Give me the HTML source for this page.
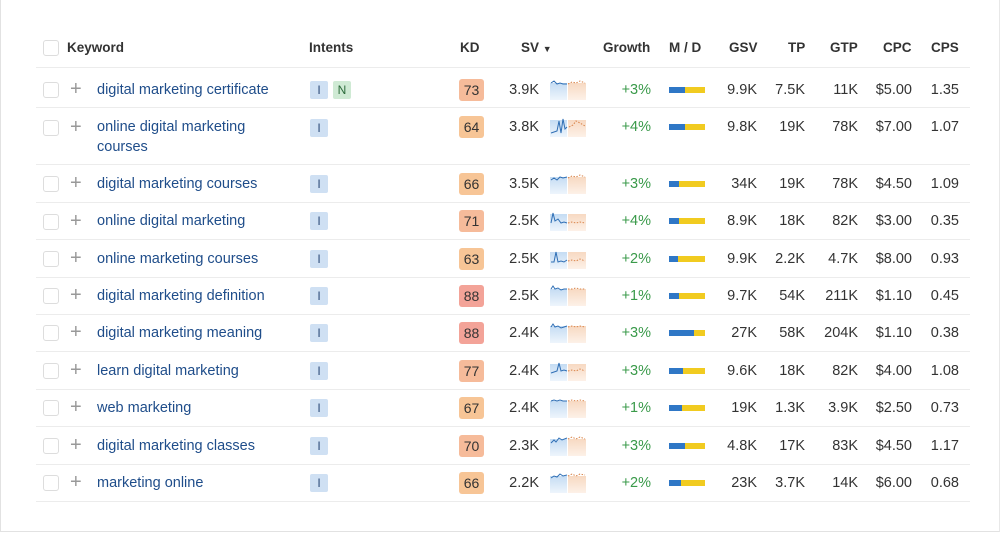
<!DOCTYPE html>
<html><head><meta charset="utf-8"><style>
*{margin:0;padding:0;box-sizing:border-box}
body{width:1000px;height:533px;background:#fff;font-family:"Liberation Sans",sans-serif;position:relative;overflow:hidden;color:#333}
.frame{position:absolute;left:0;top:0;width:1000px;height:532px;border:1px solid #e2e2e2;border-top:none;border-right:1px solid #e8e8e8}
.h{position:absolute;top:40px;font-size:13.5px;font-weight:bold;color:#333}
.r{position:absolute;left:36px;width:934px;border-bottom:1px solid #ececec}
.r>*{position:absolute;margin-top:1px}
.cb{left:7px;width:16px;height:16px;border:1px solid #ddd;border-radius:3px;background:#fff}
.pl{left:34px;font-size:20px;color:#999;font-weight:300;line-height:16px}
.kw{left:61px;font-size:14.5px;color:#1f4d8a;line-height:20px;width:200px}
.in{width:18px;height:18px;background:#cfe0f3;color:#2b4a78;font-size:12px;text-align:center;line-height:18px;border-radius:2px}
.n{background:#cfead4;color:#2b6a3a}
.kd{left:423px;width:25px;height:22px;border-radius:3px;font-size:14px;text-align:center;line-height:22px;color:#333}
.num{font-size:14.5px;line-height:20px;text-align:right;color:#333}
.sv{left:453px;width:50px}
.gr{left:565px;width:50px;color:#3a9a4a}
.gsv{left:670px;width:51px}.tp{left:730px;width:39px}.gtp{left:780px;width:42px}.cpc{left:825px;width:51px}.cps{left:880px;width:43px}
.md{left:633px;width:36px;height:6px;background:#f1cb20}
.md i{display:block;height:6px;background:#2f77c6}
svg.sp{left:514px;width:36px;height:22px}
</style></head><body>
<div class="frame"></div>
<div style="position:absolute;left:43px;top:40px;width:16px;height:16px;border:1px solid #ddd;border-radius:3px"></div>
<div class="h" style="left:67px">Keyword</div>
<div class="h" style="left:309px">Intents</div>
<div class="h" style="left:460px">KD</div>
<div class="h" style="left:521px">SV <span style="font-size:9px">▼</span></div>
<div class="h" style="left:603px">Growth</div>
<div class="h" style="left:669px">M / D</div>
<div class="h" style="left:729px">GSV</div>
<div class="h" style="left:788px">TP</div>
<div class="h" style="left:830px">GTP</div>
<div class="h" style="left:883px">CPC</div>
<div class="h" style="left:931px">CPS</div>
<div style="position:absolute;left:36px;top:67px;width:934px;border-top:1px solid #ececec"></div>

<svg width="0" height="0" style="position:absolute"><defs>
<linearGradient id="gb" x1="0" y1="0" x2="0" y2="1"><stop offset="0" stop-color="#c5dcf3"/><stop offset="1" stop-color="#eef5fc"/></linearGradient>
<linearGradient id="go" x1="0" y1="0" x2="0" y2="1"><stop offset="0" stop-color="#f7d9c2"/><stop offset="1" stop-color="#fdf1e8"/></linearGradient>
<g id="bg"><rect x="0" y="5" width="17" height="17" fill="url(#gb)"/><rect x="18" y="5" width="18" height="17" fill="url(#go)"/></g>
</defs></svg>

<div class="r" style="top:68px;height:40px">
<div class="cb" style="top:13px"></div><div class="pl" style="top:12px">+</div>
<div class="kw" style="top:11px">digital marketing certificate</div>
<div class="in" style="left:274px;top:12px">I</div><div class="in n" style="left:297px;top:12px">N</div>
<div class="kd" style="top:10px;background:#f6bb9a">73</div>
<div class="num sv" style="top:11px">3.9K</div>
<svg class="sp" style="top:9px"><use href="#bg"/><polyline points="1,5 4,3 7,6 10,5 13,6 17,6" fill="none" stroke="#2f6fb5" stroke-width="1"/><polyline points="18,6 22,4 26,5 30,3 35,5" fill="none" stroke="#d9844a" stroke-dasharray="1.5,1.5"/></svg>
<div class="num gr" style="top:11px">+3%</div>
<div class="md" style="top:18px"><i style="width:16px"></i></div>
<div class="num gsv" style="top:11px">9.9K</div><div class="num tp" style="top:11px">7.5K</div><div class="num gtp" style="top:11px">11K</div><div class="num cpc" style="top:11px">$5.00</div><div class="num cps" style="top:11px">1.35</div>
</div>

<div class="r" style="top:108px;height:57px">
<div class="cb" style="top:11px"></div><div class="pl" style="top:10px">+</div>
<div class="kw" style="top:8px">online digital marketing<br>courses</div>
<div class="in" style="left:274px;top:10px">I</div>
<div class="kd" style="top:7px;background:#f7c596">64</div>
<div class="num sv" style="top:8px">3.8K</div>
<svg class="sp" style="top:6px"><use href="#bg"/><polyline points="1,18 4,17 7,16 9,6 11,18 13,4 15,14 17,12" fill="none" stroke="#2f6fb5"/><polyline points="19,12 23,10 26,6 30,8 35,11" fill="none" stroke="#d9844a" stroke-dasharray="1.5,1.5"/></svg>
<div class="num gr" style="top:8px">+4%</div>
<div class="md" style="top:15px"><i style="width:16px"></i></div>
<div class="num gsv" style="top:8px">9.8K</div><div class="num tp" style="top:8px">19K</div><div class="num gtp" style="top:8px">78K</div><div class="num cpc" style="top:8px">$7.00</div><div class="num cps" style="top:8px">1.07</div>
</div>

<div class="r" style="top:165px;height:38px">
<div class="cb" style="top:10px"></div><div class="pl" style="top:9px">+</div>
<div class="kw" style="top:8px">digital marketing courses</div>
<div class="in" style="left:274px;top:9px">I</div>
<div class="kd" style="top:7px;background:#f7c596">66</div>
<div class="num sv" style="top:8px">3.5K</div>
<svg class="sp" style="top:6px"><use href="#bg"/><polyline points="1,8 4,6 7,8 10,5 13,6 17,5" fill="none" stroke="#2f6fb5"/><polyline points="18,6 22,4 26,5 30,3 35,5" fill="none" stroke="#d9844a" stroke-dasharray="1.5,1.5"/></svg>
<div class="num gr" style="top:8px">+3%</div>
<div class="md" style="top:15px"><i style="width:10px"></i></div>
<div class="num gsv" style="top:8px">34K</div><div class="num tp" style="top:8px">19K</div><div class="num gtp" style="top:8px">78K</div><div class="num cpc" style="top:8px">$4.50</div><div class="num cps" style="top:8px">1.09</div>
</div>

<div class="r" style="top:203px;height:37px">
<div class="cb" style="top:10px"></div><div class="pl" style="top:9px">+</div>
<div class="kw" style="top:7px">online digital marketing</div>
<div class="in" style="left:274px;top:8px">I</div>
<div class="kd" style="top:6px;background:#f6bb9a">71</div>
<div class="num sv" style="top:7px">2.5K</div>
<svg class="sp" style="top:5px"><use href="#bg"/><polyline points="1,14 3,4 5,12 8,10 11,14 14,13 17,14" fill="none" stroke="#2f6fb5"/><polyline points="18,14 22,13 26,14 30,13 35,14" fill="none" stroke="#d9844a" stroke-dasharray="1.5,1.5"/></svg>
<div class="num gr" style="top:7px">+4%</div>
<div class="md" style="top:14px"><i style="width:10px"></i></div>
<div class="num gsv" style="top:7px">8.9K</div><div class="num tp" style="top:7px">18K</div><div class="num gtp" style="top:7px">82K</div><div class="num cpc" style="top:7px">$3.00</div><div class="num cps" style="top:7px">0.35</div>
</div>

<div class="r" style="top:240px;height:38px">
<div class="cb" style="top:10px"></div><div class="pl" style="top:9px">+</div>
<div class="kw" style="top:8px">online marketing courses</div>
<div class="in" style="left:274px;top:9px">I</div>
<div class="kd" style="top:7px;background:#f7c596">63</div>
<div class="num sv" style="top:8px">2.5K</div>
<svg class="sp" style="top:6px"><use href="#bg"/><polyline points="1,15 4,15 6,5 8,15 11,14 14,15 17,13" fill="none" stroke="#2f6fb5"/><polyline points="18,14 22,13 26,14 30,12 35,14" fill="none" stroke="#d9844a" stroke-dasharray="1.5,1.5"/></svg>
<div class="num gr" style="top:8px">+2%</div>
<div class="md" style="top:15px"><i style="width:9px"></i></div>
<div class="num gsv" style="top:8px">9.9K</div><div class="num tp" style="top:8px">2.2K</div><div class="num gtp" style="top:8px">4.7K</div><div class="num cpc" style="top:8px">$8.00</div><div class="num cps" style="top:8px">0.93</div>
</div>

<div class="r" style="top:278px;height:37px">
<div class="cb" style="top:9px"></div><div class="pl" style="top:8px">+</div>
<div class="kw" style="top:7px">digital marketing definition</div>
<div class="in" style="left:274px;top:8px">I</div>
<div class="kd" style="top:6px;background:#f3a398">88</div>
<div class="num sv" style="top:7px">2.5K</div>
<svg class="sp" style="top:5px"><use href="#bg"/><polyline points="1,5 3,2 5,5 8,4 11,6 14,5 17,5" fill="none" stroke="#2f6fb5"/><polyline points="18,5 22,5 26,4 30,5 35,5" fill="none" stroke="#d9844a" stroke-dasharray="1.5,1.5"/></svg>
<div class="num gr" style="top:7px">+1%</div>
<div class="md" style="top:14px"><i style="width:10px"></i></div>
<div class="num gsv" style="top:7px">9.7K</div><div class="num tp" style="top:7px">54K</div><div class="num gtp" style="top:7px">211K</div><div class="num cpc" style="top:7px">$1.10</div><div class="num cps" style="top:7px">0.45</div>
</div>

<div class="r" style="top:315px;height:37px">
<div class="cb" style="top:9px"></div><div class="pl" style="top:8px">+</div>
<div class="kw" style="top:7px">digital marketing meaning</div>
<div class="in" style="left:274px;top:8px">I</div>
<div class="kd" style="top:6px;background:#f3a398">88</div>
<div class="num sv" style="top:7px">2.4K</div>
<svg class="sp" style="top:5px"><use href="#bg"/><polyline points="1,6 3,3 5,6 8,5 11,7 14,6 17,5" fill="none" stroke="#2f6fb5"/><polyline points="18,6 22,5 26,6 30,5 35,6" fill="none" stroke="#d9844a" stroke-dasharray="1.5,1.5"/></svg>
<div class="num gr" style="top:7px">+3%</div>
<div class="md" style="top:14px"><i style="width:25px"></i></div>
<div class="num gsv" style="top:7px">27K</div><div class="num tp" style="top:7px">58K</div><div class="num gtp" style="top:7px">204K</div><div class="num cpc" style="top:7px">$1.10</div><div class="num cps" style="top:7px">0.38</div>
</div>

<div class="r" style="top:352px;height:38px">
<div class="cb" style="top:10px"></div><div class="pl" style="top:9px">+</div>
<div class="kw" style="top:8px">learn digital marketing</div>
<div class="in" style="left:274px;top:9px">I</div>
<div class="kd" style="top:7px;background:#f6bb9a">77</div>
<div class="num sv" style="top:8px">2.4K</div>
<svg class="sp" style="top:6px"><use href="#bg"/><polyline points="1,14 4,13 7,12 9,4 11,12 14,11 17,12" fill="none" stroke="#2f6fb5"/><polyline points="18,12 22,11 26,12 30,10 35,12" fill="none" stroke="#d9844a" stroke-dasharray="1.5,1.5"/></svg>
<div class="num gr" style="top:8px">+3%</div>
<div class="md" style="top:15px"><i style="width:14px"></i></div>
<div class="num gsv" style="top:8px">9.6K</div><div class="num tp" style="top:8px">18K</div><div class="num gtp" style="top:8px">82K</div><div class="num cpc" style="top:8px">$4.00</div><div class="num cps" style="top:8px">1.08</div>
</div>

<div class="r" style="top:390px;height:37px">
<div class="cb" style="top:9px"></div><div class="pl" style="top:8px">+</div>
<div class="kw" style="top:7px">web marketing</div>
<div class="in" style="left:274px;top:8px">I</div>
<div class="kd" style="top:6px;background:#f7c596">67</div>
<div class="num sv" style="top:7px">2.4K</div>
<svg class="sp" style="top:5px"><use href="#bg"/><polyline points="1,5 4,4 7,5 10,4 13,5 17,5" fill="none" stroke="#2f6fb5"/><polyline points="18,5 22,4 26,5 30,4 35,5" fill="none" stroke="#d9844a" stroke-dasharray="1.5,1.5"/></svg>
<div class="num gr" style="top:7px">+1%</div>
<div class="md" style="top:14px"><i style="width:13px"></i></div>
<div class="num gsv" style="top:7px">19K</div><div class="num tp" style="top:7px">1.3K</div><div class="num gtp" style="top:7px">3.9K</div><div class="num cpc" style="top:7px">$2.50</div><div class="num cps" style="top:7px">0.73</div>
</div>

<div class="r" style="top:427px;height:38px">
<div class="cb" style="top:10px"></div><div class="pl" style="top:9px">+</div>
<div class="kw" style="top:8px">digital marketing classes</div>
<div class="in" style="left:274px;top:9px">I</div>
<div class="kd" style="top:7px;background:#f6bb9a">70</div>
<div class="num sv" style="top:8px">2.3K</div>
<svg class="sp" style="top:6px"><use href="#bg"/><polyline points="1,9 4,6 6,8 9,4 12,6 17,4" fill="none" stroke="#2f6fb5"/><polyline points="18,5 22,3 26,5 30,3 35,5" fill="none" stroke="#d9844a" stroke-dasharray="1.5,1.5"/></svg>
<div class="num gr" style="top:8px">+3%</div>
<div class="md" style="top:15px"><i style="width:16px"></i></div>
<div class="num gsv" style="top:8px">4.8K</div><div class="num tp" style="top:8px">17K</div><div class="num gtp" style="top:8px">83K</div><div class="num cpc" style="top:8px">$4.50</div><div class="num cps" style="top:8px">1.17</div>
</div>

<div class="r" style="top:465px;height:37px">
<div class="cb" style="top:9px"></div><div class="pl" style="top:8px">+</div>
<div class="kw" style="top:7px">marketing online</div>
<div class="in" style="left:274px;top:8px">I</div>
<div class="kd" style="top:6px;background:#f7c596">66</div>
<div class="num sv" style="top:7px">2.2K</div>
<svg class="sp" style="top:5px"><use href="#bg"/><polyline points="1,7 4,5 7,6 10,3 13,5 17,4" fill="none" stroke="#2f6fb5"/><polyline points="18,5 22,3 26,5 30,3 35,4" fill="none" stroke="#d9844a" stroke-dasharray="1.5,1.5"/></svg>
<div class="num gr" style="top:7px">+2%</div>
<div class="md" style="top:14px"><i style="width:12px"></i></div>
<div class="num gsv" style="top:7px">23K</div><div class="num tp" style="top:7px">3.7K</div><div class="num gtp" style="top:7px">14K</div><div class="num cpc" style="top:7px">$6.00</div><div class="num cps" style="top:7px">0.68</div>
</div>
</body></html>
